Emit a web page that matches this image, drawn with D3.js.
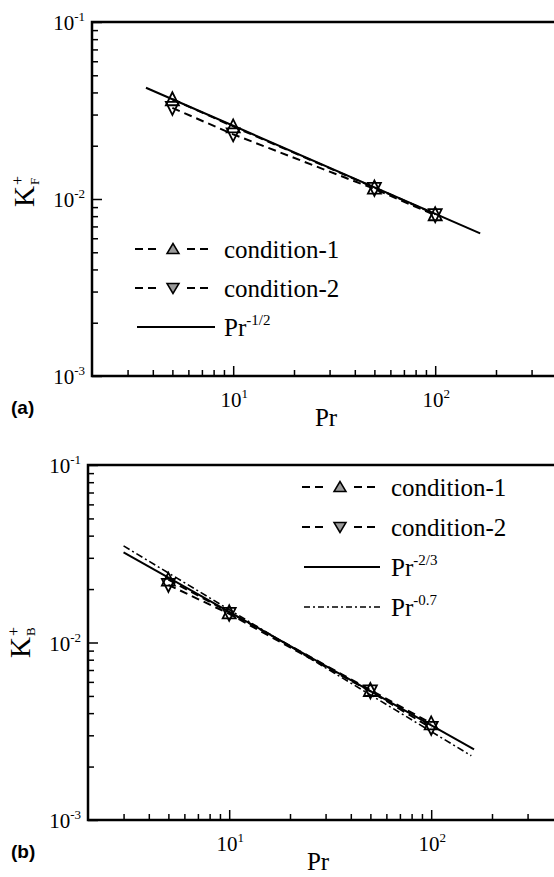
<!DOCTYPE html>
<html>
<head>
<meta charset="utf-8">
<script src="https://cdn.jsdelivr.net/npm/d3@7"></script>
<style>
  body { margin: 0; background: #fff; overflow: hidden; }
  text { font-family: "Liberation Serif", "Times New Roman", serif; fill: #000; }
</style>
</head>
<body>
<div id="chart"></div>
<script>
// ---- data ----
const prValues = [5, 10, 50, 100];

// panel (a)
const kfCondition1 = [0.0366, 0.0257, 0.0116, 0.0082];
const kfCondition2 = [0.0327, 0.0232, 0.0114, 0.0081];
const kfHalfPr = [3.7, 167];          // Pr^-1/2 line end points
const kfHalf = [0.0425, 0.0064];

// panel (b)
const kbCondition1 = [0.0226, 0.0148, 0.0054, 0.0035];
const kbCondition2 = [0.0211, 0.0145, 0.0053, 0.0033];
const kbTwoThirdsPr = [3, 163];       // Pr^-2/3
const kbTwoThirds = [0.0322, 0.0025];
const kbPointSevenPr = [3, 158];      // Pr^-0.7
const kbPointSeven = [0.0350, 0.0023];

// ticks
const xMajor = [10, 100];
const xMajorExp = ["1", "2"];
const xMinor = [3, 4, 5, 6, 7, 8, 9, 20, 30, 40, 50, 60, 70, 80, 90, 200, 300];
const yMajor = [0.001, 0.01, 0.1];
const yMajorExp = ["-3", "-2", "-1"];
const yMinor = [0.002, 0.003, 0.004, 0.005, 0.006, 0.007, 0.008, 0.009,
                0.02, 0.03, 0.04, 0.05, 0.06, 0.07, 0.08, 0.09];

const legendA = ["condition-1", "condition-2", "Pr"];
const legendB = ["condition-1", "condition-2", "Pr", "Pr"];

const width = 554, height = 877;
const decade = 202;

const svg = d3.select("#chart")
  .append("svg")
  .attr("width", width)
  .attr("height", height);

const zip = (a, b) => a.map((v, i) => [v, b[i]]);

function triangle(g, cx, cy, up, w, h, fill, sw) {
  const p = up
    ? [[cx, cy - h / 2 - 1], [cx - w / 2, cy + h / 2], [cx + w / 2, cy + h / 2]]
    : [[cx, cy + h / 2 + 1], [cx - w / 2, cy - h / 2], [cx + w / 2, cy - h / 2]];
  g.append("path")
    .attr("d", "M" + p.join("L") + "Z")
    .attr("fill", fill)
    .attr("stroke", "#000")
    .attr("stroke-width", sw)
    .attr("stroke-linejoin", "miter");
}

function drawPanel(p) {
  const g = svg.append("g");
  const x = d3.scaleLog().domain([2, 400]).range([p.left, p.left + decade * Math.log10(200)]);
  const y = d3.scaleLog().domain([0.001, 0.1]).range([p.bottom, p.top]);

  // ticks (pointing inward)
  const tick = (axis, vals, size, tr) => {
    const a = g.append("g").attr("transform", tr)
      .call(axis.tickValues(vals).tickSize(-size).tickFormat(""));
    a.select(".domain").remove();
    a.selectAll(".tick line").attr("stroke", "#000").attr("stroke-width", 1.5);
  };
  tick(d3.axisBottom(x), xMajor, 10, `translate(0,${p.bottom})`);
  tick(d3.axisBottom(x), xMinor, 6, `translate(0,${p.bottom})`);
  tick(d3.axisLeft(y), yMajor, 10, `translate(${p.left},0)`);
  tick(d3.axisLeft(y), yMinor, 6, `translate(${p.left},0)`);

  // frame (right side falls outside the page)
  g.append("path")
    .attr("d", `M${width + 5},${p.top}H${p.left}V${p.bottom}H${width + 5}`)
    .attr("fill", "none")
    .attr("stroke", "#000")
    .attr("stroke-width", 2.5);

  // tick labels
  xMajor.forEach((v, i) => {
    const t = g.append("text")
      .attr("x", x(v) + 1)
      .attr("y", p.bottom + 31)
      .attr("text-anchor", "middle")
      .style("font-size", "21px")
      .text("10");
    t.append("tspan").attr("dy", -9).style("font-size", "13px").text(xMajorExp[i]);
  });
  yMajor.forEach((v, i) => {
    const t = g.append("text")
      .attr("x", p.left - 7)
      .attr("y", y(v) + 8)
      .attr("text-anchor", "end")
      .style("font-size", "21px")
      .text("10");
    t.append("tspan").attr("dy", -9).style("font-size", "13px").text(yMajorExp[i]);
  });

  // axis titles
  g.append("text")
    .attr("x", p.titleX)
    .attr("y", p.bottom + 50)
    .attr("text-anchor", "middle")
    .style("font-size", "25px")
    .text("Pr");

  const yl = g.append("g").attr("transform", `translate(${p.left - 58},${p.yLabelY}) rotate(-90)`);
  yl.append("text").attr("x", 0).attr("y", 0).attr("text-anchor", "end").style("font-size", "29px").text("K");
  yl.append("text").attr("x", 1).attr("y", -11).style("font-size", "16px").text("+");
  yl.append("text").attr("x", 1).attr("y", 5).style("font-size", "13px").text(p.sub);

  g.append("text")
    .attr("x", 11)
    .attr("y", p.bottom + 38)
    .style("font-family", "'Liberation Sans', Arial, sans-serif")
    .style("font-weight", "bold")
    .style("font-size", "19px")
    .text(p.tag);

  const line = d3.line().x(d => x(d[0])).y(d => y(d[1]));

  // fit lines
  p.fits.forEach(f => {
    g.append("path")
      .datum(zip(f.pr, f.k))
      .attr("d", line)
      .attr("fill", "none")
      .attr("stroke", "#000")
      .attr("stroke-width", f.width)
      .attr("stroke-dasharray", f.dash);
  });

  // condition series
  p.series.forEach(s => {
    g.append("path")
      .datum(zip(prValues, s.k))
      .attr("d", line)
      .attr("fill", "none")
      .attr("stroke", "#000")
      .attr("stroke-width", 2)
      .attr("stroke-dasharray", "8,5");
    s.k.forEach((v, i) => triangle(g, x(prValues[i]), y(v), s.up, 13, 12, "none", 1.8));
  });

  // legend
  p.legend.forEach((e, i) => {
    const ly = p.legY + i * p.legStep;
    const x0 = p.legX;
    if (e.marker) {
      g.append("path").attr("d", `M${x0},${ly}h21M${x0 + 52},${ly}h21`)
        .attr("stroke", "#000").attr("stroke-width", 2).attr("stroke-dasharray", "8,5");
      triangle(g, x0 + 38, ly, e.up, 12, 9, "#9a9a9a", 1.5);
    } else {
      g.append("line").attr("x1", x0 + 2).attr("x2", x0 + e.len).attr("y1", ly).attr("y2", ly)
        .attr("stroke", "#000").attr("stroke-width", e.width).attr("stroke-dasharray", e.dash);
    }
    const t = g.append("text")
      .attr("x", p.legX + 89)
      .attr("y", ly + 9)
      .style("font-size", "25px")
      .text(e.label);
    if (e.sup) t.append("tspan").attr("dy", -11).style("font-size", "15px").text(e.sup);
  });
}

drawPanel({
  left: 92, top: 22, bottom: 376, titleX: 326, yLabelY: 186, sub: "F", tag: "(a)",
  fits: [{ pr: kfHalfPr, k: kfHalf, width: 2, dash: null }],
  series: [{ k: kfCondition1, up: true }, { k: kfCondition2, up: false }],
  legX: 135, legY: 249, legStep: 39,
  legend: [
    { label: legendA[0], marker: true, up: true },
    { label: legendA[1], marker: true, up: false },
    { label: legendA[2], sup: "-1/2", len: 80, width: 2, dash: null }
  ]
});

drawPanel({
  left: 88, top: 465, bottom: 820, titleX: 318, yLabelY: 637, sub: "B", tag: "(b)",
  fits: [
    { pr: kbTwoThirdsPr, k: kbTwoThirds, width: 2, dash: null },
    { pr: kbPointSevenPr, k: kbPointSeven, width: 1.6, dash: "7,3,2,3" }
  ],
  series: [{ k: kbCondition1, up: true }, { k: kbCondition2, up: false }],
  legX: 302, legY: 487, legStep: 40,
  legend: [
    { label: legendB[0], marker: true, up: true },
    { label: legendB[1], marker: true, up: false },
    { label: legendB[2], sup: "-2/3", len: 78, width: 2, dash: null },
    { label: legendB[3], sup: "-0.7", len: 78, width: 1.5, dash: "6,3,2,3" }
  ]
});
</script>
</body>
</html>
